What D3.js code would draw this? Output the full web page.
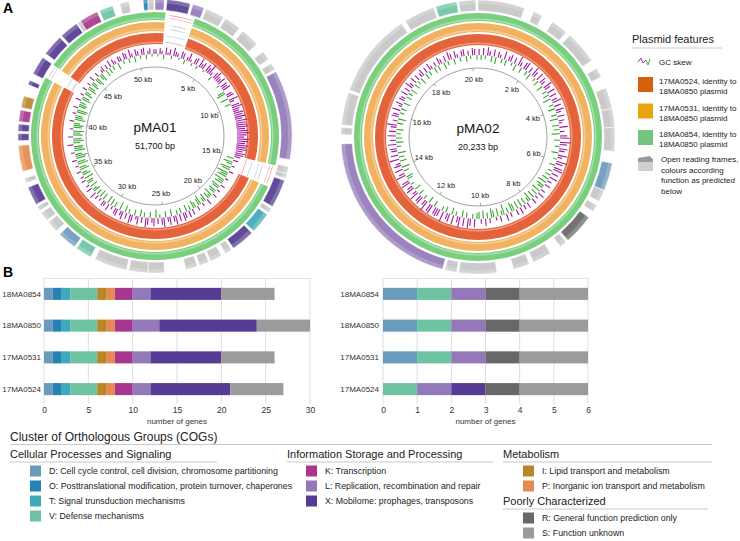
<!DOCTYPE html>
<html><head><meta charset="utf-8">
<script src="https://cdn.jsdelivr.net/npm/d3@7"></script>
<style>body{margin:0;background:#fff}svg{font-family:"Liberation Sans",Arial,sans-serif}</style>
</head><body><svg id="c" width="740" height="541"></svg>
<script>
// ---------------- DATA ----------------
const cogCodes  = ["D","O","T","V","I","P","K","L","X","R","S"];
const cogColors = ["#6b9bbb","#2482b4","#40a9b9","#6ec4a2","#b98528","#e48b4e","#a8368f","#9379b9","#553b93","#686868","#9b9b9b"];
const cogLabels = {
  D:"D: Cell cycle control, cell division, chromosome partitioning",
  O:"O: Posttranslational modification, protein turnover, chaperones",
  T:"T: Signal trunsduction mechanisms",
  V:"V: Defense mechanisms",
  K:"K: Transcription",
  L:"L: Replication, recombination and repair",
  X:"X: Mobilome: prophages, transposons",
  I:"I: Lipid transport and metabolism",
  P:"P: Inorganic ion transport and metabolism",
  R:"R: General function prediction only",
  S:"S: Function unknown"
};
const strains = ["18MA0854","18MA0850","17MA0531","17MA0524"];
// gene counts per strain, in cogCodes order
const pMA01Counts = [
  [1,1,1,3,1,1,2,2,8,0,6],
  [1,1,1,3,1,1,2,3,11,0,6],
  [1,1,1,3,1,1,2,2,8,0,6],
  [1,1,1,3,1,1,2,2,9,0,6]
];
const pMA02Counts = [
  [1,0,0,1,0,0,0,1,0,1,2],
  [1,0,0,1,0,0,0,1,0,1,2],
  [1,0,0,1,0,0,0,1,0,1,2],
  [0,0,0,1,0,0,0,1,1,1,2]
];
const ticksA = [0,5,10,15,20,25,30];
const ticksB = [0,1,2,3,4,5,6];

// plasmid maps
const pMA01Length = 51.7, pMA02Length = 20.233;
const pMA01Ticks = [5,10,15,20,25,30,35,40,45,50];
const pMA02Ticks = [2,4,6,8,10,12,14,16,18,20];
// ORFs: [start kb, end kb, COG]
const pMA01Orfs = [
 [50.98,51.27,"O"],[51.27,51.63,"S"],[0.0,0.57,"L"],[0.72,2.15,"X"],[2.30,3.02,"L"],[3.16,4.31,"S"],
 [4.45,5.46,"S"],[5.74,6.89,"S"],[7.47,8.04,"S"],[8.33,8.76,"S"],[8.90,14.36,"L"],[14.79,15.22,"S"],
 [15.22,15.51,"S"],[15.65,17.38,"X"],[17.52,17.81,"S"],[17.95,19.24,"T"],[19.39,20.83,"X"],[20.97,21.40,"S"],
 [21.68,22.40,"S"],[22.54,23.12,"S"],[23.26,23.98,"S"],[25.27,26.28,"S"],[26.28,27.43,"S"],[27.57,29.58,"S"],
 [29.87,30.87,"V"],[31.02,32.17,"D"],[32.46,33.17,"S"],[33.32,33.89,"S"],[34.04,34.32,"S"],[34.47,35.61,"X"],
 [35.90,36.19,"S"],[36.62,38.20,"P"],[38.49,38.92,"X"],[39.06,39.49,"X"],[39.64,40.35,"K"],[40.50,41.22,"I"],
 [41.94,42.23,"X"],[42.66,43.80,"X"],[44.09,45.38,"X"],[45.53,46.68,"X"],[46.75,46.97,"S"],[46.97,48.11,"K"],
 [48.26,49.11,"V"],[49.55,50.12,"S"]
];
const pMA02Orfs = [
 [19.22,19.73,"V"],[19.78,20.18,"S"],[0.0,1.12,"S"],[1.35,1.57,"S"],[1.85,2.25,"S"],[2.36,3.15,"S"],
 [3.37,3.60,"S"],[3.88,4.38,"S"],[4.38,4.83,"S"],[4.83,5.40,"S"],[5.68,6.35,"D"],[6.35,6.63,"S"],
 [6.74,6.91,"S"],[7.08,7.81,"R"],[7.87,8.04,"S"],[8.32,8.77,"S"],[8.88,9.27,"S"],[9.67,10.57,"S"],
 [10.62,10.90,"S"],[10.96,15.01,"L"],[15.23,15.40,"S"],[15.46,16.24,"S"],[16.30,18.32,"S"],[18.43,19.17,"S"]
];
// identity ring segments (kb) – same coverage for the three strains
const pMA01Segments = [[0,0.7],[2.7,14.9],[16.4,42.8],[43.8,51.7]];
const pMA02Segments = [[0,20.233]];
// short hits inside the pMA01 gaps: [start kb, end kb, ring index]
const pMA01GapHits = [[0.9,2.5,0],[1.2,2.3,1],[1.0,2.6,2],[15.0,16.3,0],[15.1,16.2,1],[15.0,16.2,2],[42.9,43.7,0],[42.9,43.7,2]];
// GC skew windows (relative, + purple outward, - green inward)
const pMA01Skew = [
 0.4,-0.2,0.5,0.3,-0.4,0.6,0.2,0.5,-0.3,0.7,0.4,0.3,-0.2,0.6,0.5,-0.4,0.3,0.7,0.2,-0.3,
 0.5,0.6,-0.3,0.8,0.4,0.6,-0.2,0.7,0.5,0.9,0.3,-0.4,0.6,0.8,0.5,0.4,0.7,-0.3,0.6,0.5,
 0.7,-0.6,-0.8,0.5,0.6,-0.7,0.8,0.4,-0.5,0.7,0.9,0.6,0.5,0.8,0.7,0.9,0.6,1.0,0.8,0.9,
 1.0,0.7,0.9,1.0,0.8,0.6,1.0,0.9,0.7,1.0,0.8,0.9,0.6,0.8,0.7,0.5,-0.6,0.4,-0.8,-0.5,
 0.3,-0.9,-0.7,0.4,-1.0,-0.6,-0.8,0.3,-0.9,-0.5,-0.7,0.4,-0.8,-0.6,0.3,-0.7,-0.5,0.4,-0.8,-0.3,
 -0.6,0.5,-0.7,-0.4,0.3,-0.8,-0.6,0.4,-0.5,-0.7,0.5,-0.4,0.6,-0.6,0.5,0.7,-0.5,0.6,-0.4,0.8,
 0.5,-0.6,0.7,0.4,-0.5,0.8,0.6,-0.3,0.5,-0.7,0.7,0.4,-0.5,0.6,0.8,-0.4,0.5,-0.6,0.7,0.3,
 -0.5,0.6,0.8,-0.4,0.5,-0.6,0.7,0.4,-0.7,0.6,0.5,-0.5,0.3,-0.6,0.6,-0.7,0.4,0.5,-0.6,0.3,
 -0.7,0.4,-0.5,0.6,-0.6,-0.4,0.5,-0.7,0.3,-0.5,-0.6,0.4,-0.8,0.3,-0.7,-0.5,0.4,-0.8,-0.6,0.3,
 -0.9,-0.7,0.4,-0.8,-1.0,-0.6,0.3,-0.9,-0.7,-0.8,0.5,-0.6,-0.9,-0.7,0.4,-0.8,-0.6,-0.9,0.3,-0.7,
 -0.8,-0.5,0.4,-0.9,-0.7,-0.6,0.3,-0.8,-0.9,0.4,-0.6,-0.7,-0.5,0.5,-0.8,-0.6,0.3,-0.7,-0.5,0.4,
 -0.8,-0.6,0.3,-0.7,-0.5,0.5,-0.6,-0.8,0.4,-0.5,-0.7,0.3,0.5,-0.6,0.4,-0.5,0.6,-0.4,0.5,0.3,
 -0.6,0.5,0.4,-0.3,0.6,0.5,-0.4,0.7,0.3,-0.5,0.6,0.4,-0.3,0.5,0.6,-0.4,0.3,0.5,-0.2,0.4
];
const pMA02Skew = [
 0.5,-0.4,0.6,-0.3,0.7,0.4,-0.5,0.6,-0.6,0.5,0.3,-0.4,0.7,-0.5,0.4,0.6,-0.3,0.5,-0.6,0.8,
 0.4,-0.5,0.6,0.7,-0.4,0.5,-0.6,0.8,0.5,-0.3,0.7,-0.5,0.6,0.4,-0.6,0.8,0.5,-0.4,0.7,-0.5,
 0.6,-0.7,0.5,0.8,-0.4,0.6,-0.6,0.7,0.4,-0.5,0.6,-0.7,0.5,0.3,-0.6,0.7,-0.5,0.4,-0.7,0.6,
 0.8,-0.5,0.9,0.6,-0.4,0.7,0.5,-0.6,0.8,0.4,-0.3,0.9,0.6,-0.5,0.7,0.8,-0.4,0.6,-0.5,0.7,
 -0.6,0.4,-0.8,0.5,-0.7,-0.5,0.4,-0.8,0.6,-0.6,0.3,-0.7,0.5,-0.8,-0.4,0.5,-0.6,0.4,-0.7,0.6,
 -0.7,0.5,-0.6,-0.8,0.4,-0.5,0.6,-0.9,-0.4,0.5,-0.7,0.3,-0.6,-0.8,0.4,-0.5,0.6,-0.7,0.4,-0.6,
 -0.5,0.7,-0.4,0.6,0.8,-0.5,0.7,-0.6,0.9,0.5,-0.4,0.8,-0.6,0.7,0.5,-0.5,0.9,-0.4,0.6,0.7,
 0.6,-0.5,0.8,0.7,-0.6,0.9,0.5,-0.4,0.7,0.6,-0.5,0.8,0.4,-0.6,0.7,0.5,-0.3,0.8,0.6,-0.5,
 -0.6,0.8,0.5,-0.5,0.7,-0.7,0.6,0.4,-0.6,0.8,-0.5,0.6,-0.7,0.5,0.6,-0.4,0.7,-0.6,0.5,-0.5,
 0.7,-0.4,0.6,-0.6,0.5,0.8,-0.5,0.4,-0.7,0.6,0.5,-0.4,0.7,-0.5,0.3,0.6,-0.6,0.5,0.4,-0.5,
 0.6,-0.4,0.5,-0.6,0.7,0.4,-0.5,0.6,-0.3,0.5,-0.6,0.4,0.6,-0.5,0.5,-0.4,0.6,0.3,-0.5,0.4,
 -0.5,0.6,0.4,-0.6,0.5,-0.4,0.7,0.5,-0.5,0.6,0.3,-0.4,0.5,0.6,-0.5,0.4,-0.3,0.6,0.5,-0.4
];
const ringNames = ["17MA0524, identity to|18MA0850 plasmid","17MA0531, identity to|18MA0850 plasmid","18MA0854, identity to|18MA0850 plasmid"];
const ringColors = ["#e4633a","#f1b262","#7acf7f"];
const ringLegendColors = ["#d75f0e","#e8a50d","#72c77c"];

// ---------------- DRAW ----------------
const svg = d3.select("#c");
const color = d3.scaleOrdinal(cogCodes, cogColors);
const orfColor = c => c==="S" ? "#c6c6c6" : color(c);

svg.append("text").attr("x",3).attr("y",13).attr("font-size",14).attr("font-weight","bold").text("A");
svg.append("text").attr("x",3).attr("y",277).attr("font-size",14).attr("font-weight","bold").text("B");

const R = {tick:69, gcBase:82, gcAmp:12, rings:[[92,103],[105,114],[116,124]], orf:[126,137]};

function plasmid(cx, cy, len, ticks, orfs, segs, gapHits, skew, name, bp, sw){
  const g = svg.append("g").attr("transform",`translate(${cx},${cy})`);
  const a = d3.scaleLinear().domain([0,len]).range([0,2*Math.PI]);
  const arc = d3.arc();
  ringColors.forEach((c,i)=>{
    const [r0,r1] = R.rings[i];
    segs.forEach(s=>{
      g.append("path").attr("d",arc({innerRadius:r0,outerRadius:r1,startAngle:a(s[0]),endAngle:a(s[1])})).attr("fill",c);
      g.append("path").attr("d",arc({innerRadius:r0+1,outerRadius:r0+2.5,startAngle:a(s[0]),endAngle:a(s[1])})).attr("fill","#fff").attr("opacity",0.35);
    });
  });
  const hitCols = ["#f08a9a","#9fd8e6","#f3a0b0"];
  gapHits.forEach((h,k)=>{
    const [r0,r1] = R.rings[h[2]];
    [r0+2, r1-3].forEach((rr,j)=>g.append("path")
      .attr("d",arc({innerRadius:rr,outerRadius:rr+0.8,startAngle:a(h[0]),endAngle:a(h[1])}))
      .attr("fill",hitCols[(k+j)%3]).attr("opacity",0.8));
  });
  orfs.forEach(o=>{
    const s=a(o[0]), e=a(o[1]);
    g.append("path").attr("d",arc({innerRadius:R.orf[0],outerRadius:R.orf[1],startAngle:s,endAngle:e}))
      .attr("fill",orfColor(o[2])).attr("opacity",0.92).attr("stroke","#fff").attr("stroke-width",0.6);
    g.append("path").attr("d",arc({innerRadius:R.orf[0]+7,outerRadius:R.orf[1]-0.5,startAngle:s+0.002,endAngle:e-0.002}))
      .attr("fill","#fff").attr("opacity",0.2);
  });
  const n = skew.length;
  const ang = d3.scaleLinear().domain([0,n]).range([0,2*Math.PI]);
  const rs = d3.scaleLinear().domain([-1,1]).range([R.gcBase-R.gcAmp,R.gcBase+R.gcAmp]);
  skew.forEach((v,i)=>{
    const t = ang(i+0.5);
    const r0 = R.gcBase, r1 = rs(v);
    g.append("line")
      .attr("x1",r0*Math.sin(t)).attr("y1",-r0*Math.cos(t))
      .attr("x2",r1*Math.sin(t)).attr("y2",-r1*Math.cos(t))
      .attr("stroke", v>=0?"#a3179f":"#3aa62f").attr("stroke-width",sw);
  });
  g.append("circle").attr("r",R.tick).attr("fill","none").attr("stroke","#8a8a8a").attr("stroke-width",0.8);
  ticks.forEach(k=>{
    const t=a(k);
    g.append("line").attr("x1",R.tick*Math.sin(t)).attr("y1",-R.tick*Math.cos(t))
      .attr("x2",(R.tick-3)*Math.sin(t)).attr("y2",-(R.tick-3)*Math.cos(t)).attr("stroke","#8a8a8a").attr("stroke-width",0.8);
    g.append("text").attr("x",58*Math.sin(t)).attr("y",-58*Math.cos(t)).attr("dy","0.35em")
      .attr("text-anchor","middle").attr("font-size",7.5).attr("fill","#222").text(k+" kb");
  });
  g.append("text").attr("y",-9).attr("dy","0.35em").attr("text-anchor","middle").attr("font-size",13.5).attr("fill","#111").text(name);
  g.append("text").attr("y",10).attr("dy","0.35em").attr("text-anchor","middle").attr("font-size",9).attr("fill","#111").text(bp);
}
plasmid(155,136,pMA01Length,pMA01Ticks,pMA01Orfs,pMA01Segments,pMA01GapHits,pMA01Skew,"pMA01","51,700 bp",1.1);
plasmid(478,137,pMA02Length,pMA02Ticks,pMA02Orfs,pMA02Segments,[],pMA02Skew,"pMA02","20,233 bp",1.1);

// Plasmid features legend
const lg = svg.append("g");
lg.append("text").attr("x",632).attr("y",43).attr("font-size",11).attr("fill","#222").text("Plasmid features");
lg.append("line").attr("x1",632).attr("x2",722).attr("y1",48).attr("y2",48).attr("stroke","#ccc");
lg.append("path").attr("d","M638,62 L641,58 L643,63 L646,60").attr("fill","none").attr("stroke","#a3179f").attr("stroke-width",0.9);
lg.append("path").attr("d","M646,60 L648,65 L650,59").attr("fill","none").attr("stroke","#3aa62f").attr("stroke-width",0.9);
lg.append("text").attr("x",659).attr("y",65).attr("font-size",8).attr("fill","#222").text("GC skew");
ringLegendColors.forEach((c,i)=>{
  const y0 = 77 + i*26.5;
  lg.append("rect").attr("x",638).attr("y",y0).attr("width",15).attr("height",15).attr("fill",c);
  ringNames[i].split("|").forEach((t,j)=>lg.append("text").attr("x",659).attr("y",y0+7+j*10).attr("font-size",8).attr("fill","#222").text(t));
});
lg.append("rect").attr("x",638).attr("y",158).attr("width",15).attr("height",13).attr("fill","#cfcfcf");
lg.append("path").attr("d","M638,158 L650,156 L653,160 L653,162 L638,162 Z").attr("fill","#9a9a9a");
["Open reading frames,","colours according","function as predicted","below"].forEach((t,j)=>
  lg.append("text").attr("x",661).attr("y",162+j*10.5).attr("font-size",8).attr("fill","#222").text(t));

// ---------------- BAR CHARTS ----------------
function barChart(counts, domainMax, ticks, x0, x1, labelX){
  const rows = strains.map((s,i)=>{const o={strain:s}; cogCodes.forEach((c,j)=>o[c]=counts[i][j]); return o;});
  const stack = d3.stack().keys(cogCodes)(rows);
  const x = d3.scaleLinear().domain([0,domainMax]).range([x0,x1]);
  const y = d3.scaleBand().domain(strains).range([278,405]).paddingInner(0.62).paddingOuter(0.31);
  const g = svg.append("g");
  g.selectAll("line.grid").data(ticks).join("line").attr("x1",d=>x(d)).attr("x2",d=>x(d))
    .attr("y1",278).attr("y2",404).attr("stroke","#dedede").attr("stroke-width",1);
  g.append("line").attr("x1",x0).attr("x2",x1).attr("y1",278.5).attr("y2",278.5).attr("stroke","#e4e4e4");
  stack.forEach(layer=>{
    g.selectAll(null).data(layer).join("rect")
      .attr("x",d=>x(d[0])).attr("width",d=>x(d[1])-x(d[0]))
      .attr("y",d=>y(d.data.strain)).attr("height",y.bandwidth())
      .attr("fill",color(layer.key));
  });
  const ax = g.append("g").attr("transform","translate(0,404)")
    .call(d3.axisBottom(x).tickValues(ticks).tickFormat(d3.format("d")).tickSize(0).tickPadding(3));
  ax.select(".domain").remove();
  ax.selectAll("text").attr("font-size",8.5).attr("fill","#333").attr("font-family","Liberation Sans, Arial, sans-serif");
  g.append("text").attr("x",(x0+x1)/2).attr("y",423.5).attr("text-anchor","middle").attr("font-size",8).attr("fill","#333").text("number of genes");
  strains.forEach(s=>g.append("text").attr("x",labelX).attr("y",y(s)+y.bandwidth()/2).attr("dy","0.35em")
    .attr("text-anchor","end").attr("font-size",8).attr("fill","#333").text(s));
}
barChart(pMA01Counts,30,ticksA,44,310,41);
barChart(pMA02Counts,6,ticksB,383,588,379);

// ---------------- COG LEGEND ----------------
const cg = svg.append("g");
cg.append("text").attr("x",10).attr("y",441).attr("font-size",12).attr("fill","#222").text("Cluster of Orthologous Groups (COGs)");
cg.append("line").attr("x1",10).attr("x2",712).attr("y1",444.5).attr("y2",444.5).attr("stroke","#c8c8c8");
const groups = [
  {title:"Cellular Processes and Signaling", x:10, y:458, lineEnd:217, itemX:30, codes:["D","O","T","V"]},
  {title:"Information Storage and Processing", x:287, y:458, lineEnd:493, itemX:306, codes:["K","L","X"]},
  {title:"Metabolism", x:503, y:458, lineEnd:712, itemX:523, codes:["I","P"]},
  {title:"Poorly Characterized", x:503, y:505, lineEnd:708, itemX:523, codes:["R","S"]}
];
groups.forEach(gr=>{
  cg.append("text").attr("x",gr.x).attr("y",gr.y).attr("font-size",11).attr("fill","#222").text(gr.title);
  cg.append("line").attr("x1",gr.x).attr("x2",gr.lineEnd).attr("y1",gr.y+4).attr("y2",gr.y+4).attr("stroke","#c8c8c8");
  gr.codes.forEach((c,i)=>{
    const yc = gr.y+13+i*15;
    cg.append("rect").attr("x",gr.itemX).attr("y",yc-5.5).attr("width",11).attr("height",11).attr("fill",color(c));
    cg.append("text").attr("x",gr.itemX+19).attr("y",yc).attr("dy","0.35em").attr("font-size",8.8).attr("fill","#222").text(cogLabels[c]);
  });
});
</script></body></html>
